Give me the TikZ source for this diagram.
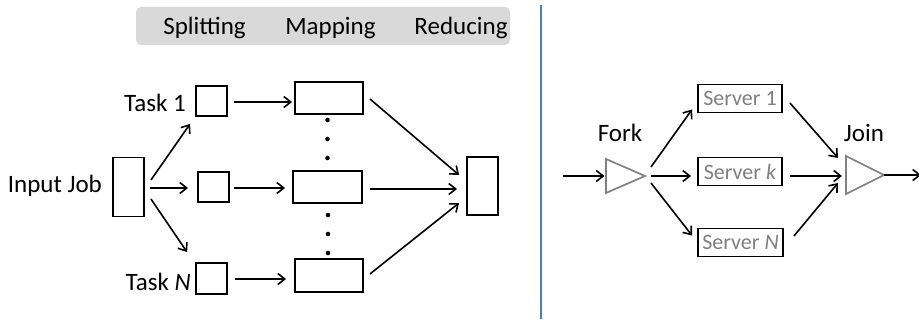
\documentclass[tikz,border=0pt]{standalone}
\usepackage{fontspec}
\setmainfont{Carlito}
\usetikzlibrary{arrows.meta,calc}
\definecolor{hdrgray}{HTML}{D9D9D9}
\definecolor{sepblue}{HTML}{4A7EBB}
\definecolor{trigray}{HTML}{808080}
\definecolor{srvtext}{HTML}{7F7F7F}
\begin{document}
\begin{tikzpicture}[x=1pt,y=-1pt,
  box/.style={draw=black, line width=1.9pt, inner sep=0pt},
  arr/.style={-{Straight Barb[length=7pt,width=11pt]}, line width=1.6pt},
  lbl/.style={font=\fontsize{25}{30}\selectfont, inner sep=0pt},
  srv/.style={box, minimum width=84pt, minimum height=28pt, text=srvtext, font=\fontsize{22}{26}\selectfont},
  tri/.style={draw=trigray, line width=1.7pt, line join=miter},
  hdr/.style={fill=hdrgray, rounded corners=5pt, inner sep=0pt}
]
\useasboundingbox (0,0) rectangle (919,320);

% header bar
\node[hdr, minimum width=374pt, minimum height=38pt] (bar) at (323,26) {};
\node[lbl, anchor=base] (hsplit) at (204.5,35) {Splitting};
\node[lbl, anchor=base] (hmap) at (330.5,35) {Mapping};
\node[lbl, anchor=base] (hred) at (461,35) {Reducing};

% left diagram boxes
\node[box, minimum width=31pt, minimum height=59pt] (in) at (128.5,187) {};
\node[box, minimum width=31pt, minimum height=30pt] (t1) at (211.5,101) {};
\node[box, minimum width=31pt, minimum height=30pt] (tk) at (213.5,187) {};
\node[box, minimum width=31pt, minimum height=31pt] (tN) at (211.5,278.5) {};
\node[box, minimum width=68pt, minimum height=32pt] (m1) at (329,98) {};
\node[box, minimum width=69pt, minimum height=32pt] (m2) at (327.5,187) {};
\node[box, minimum width=68pt, minimum height=33pt] (m3) at (329,275.5) {};
\node[box, minimum width=31pt, minimum height=58pt] (red) at (482.5,186) {};

% labels
\node[lbl, anchor=base east] (lin) at ($(in.west)+(-10,6)$) {Input Job};
\node[lbl, anchor=base east] (lt1) at ($(t1.west)+(-9,11)$) {Task 1};
\node[lbl, anchor=base east] (ltN) at ($(tN.west)+(-4,12)$) {Task \textit{N}};

% dots
\foreach \yy in {120,139,158} \fill (327.5,\yy) circle (2.3pt);
\foreach \yy in {215,234,253} \fill (328,\yy) circle (2.3pt);

% left arrows
\draw[arr] ($(in.east)+(6,-7)$) -- ($(t1.south west)+(-5,7)$);
\draw[arr] ($(in.east)+(5,1)$) -- ($(tk.west)+(-9,1)$);
\draw[arr] ($(in.east)+(6,12)$) -- ($(tN.north west)+(-8,-10)$);
\draw[arr] ($(t1.east)+(6,1)$) -- ($(m1.west)+(-2,4)$);
\draw[arr] ($(tk.east)+(4,1)$) -- ($(m2.west)+(-7,1)$);
\draw[arr] ($(tN.east)+(7,0.5)$) -- ($(m3.west)+(-8,3.5)$);
\draw[arr] ($(m1.east)+(6,1)$) -- ($(red.west)+(-7,-11)$);
\draw[arr] ($(m2.east)+(7,2)$) -- ($(red.west)+(-9,3)$);
\draw[arr] ($(m3.east)+(6,-1.5)$) -- ($(red.west)+(-7,17)$);

% separator
\draw[sepblue, line width=1.6pt] (541,5) -- (541,319);

% right diagram
\coordinate (fork) at (625.5,176);
\coordinate (join) at (865,175);
\coordinate (src) at (563,176);
\coordinate (sink) at (921,175);
\draw[tri] ($(fork)+(-19.5,-17)$) -- ($(fork)+(19.5,0)$) -- ($(fork)+(-19.5,17)$) -- cycle;
\draw[tri] ($(join)+(-19,-19)$) -- ($(join)+(19,0)$) -- ($(join)+(-19,19)$) -- cycle;
\node[lbl, anchor=base] (lfork) at (620,141.5) {Fork};
\node[lbl, anchor=base] (ljoin) at (864,141.5) {Join};

\node[srv] (s1) at (740,98.5) {Server 1};
\node[srv] (sk) at (740,171.5) {Server \textit{k}};
\node[srv, minimum width=85pt] (sN) at (740.5,242.5) {Server \textit{N}};

\draw[arr] (src) -- ($(fork)+(-21,0)$);
\draw[arr] ($(fork)+(25.5,-9)$) -- ($(s1.south west)+(-5,-4)$);
\draw[arr] ($(fork)+(25.5,0)$) -- ($(sk.west)+(-6,4.5)$);
\draw[arr] ($(fork)+(25.5,7)$) -- ($(sN.north west)+(-5,8)$);
\draw[arr] ($(s1.east)+(7,4.5)$) -- ($(join)+(-27,-17)$);
\draw[arr] ($(sk.east)+(7,4.5)$) -- ($(join)+(-23,1)$);
\draw[arr] ($(sN.east)+(10,-6.5)$) -- ($(join)+(-27,8)$);
\draw[arr] ($(join)+(19,0)$) -- (sink);
\end{tikzpicture}
\end{document}
